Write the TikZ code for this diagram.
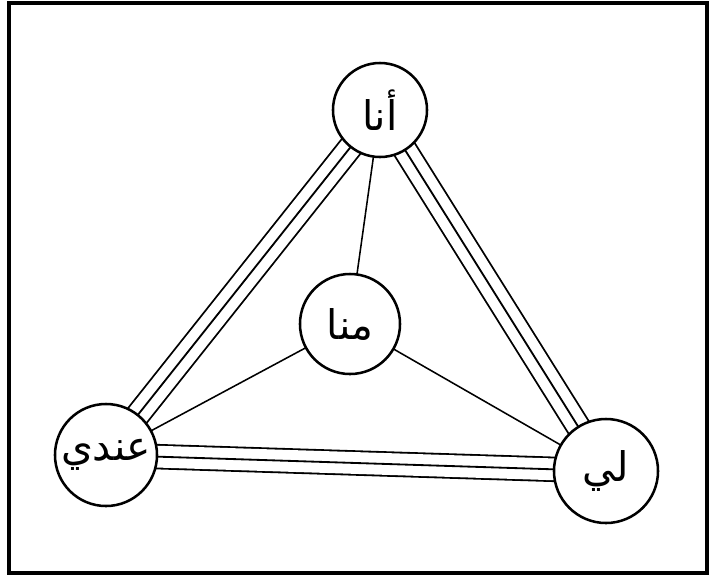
\documentclass[tikz,border=0pt]{standalone}
\usepackage{fontspec}
\usepackage{tikz}
\usetikzlibrary{backgrounds}
\newfontfamily\arabicfont[Script=Arabic]{DejaVu Sans}
\TeXXeTstate=1
\definecolor{InkBlack}{HTML}{000000}
\definecolor{PaperWhite}{HTML}{ffffff}
\tikzset{
    % Node styles
    wordcircle/.style={
        circle,
        draw=InkBlack,
        fill=PaperWhite,
        line width=1.8pt,
        minimum size=2.5cm,
        inner sep=0pt,
        font=\arabicfont\fontsize{29}{33}\selectfont
    },
    % Connector styles
    singleline/.style={
        draw=InkBlack,
        line width=1.1pt
    },
    tripleline/.style={
        draw=InkBlack,
        line width=1.3pt,
        preaction={draw=InkBlack, double=PaperWhite, double distance=15.5pt, line width=1.3pt}
    }
}

\begin{document}
\begin{tikzpicture}[x=0.025cm, y=-0.025cm]
    \useasboundingbox (0,0) rectangle (711,581);
    \draw[InkBlack, line width=3pt] (9,3) rectangle (707,573);

    \node[wordcircle, minimum size=2.35cm] (ana) at (380,110) {\beginR أنا\endR};
    \node[wordcircle] (minna) at (350,324) {\beginR منا\endR};
    \node[wordcircle, minimum size=2.55cm] (indi) at (106,455) {\beginR عندي\endR};
    \node[wordcircle, minimum size=2.6cm] (li) at (606,471) {\beginR لي\endR};

    \begin{scope}[on background layer]
        \draw[tripleline] (ana.center) -- (indi.center);
        \draw[tripleline] (ana.center) -- (li.center);
        \draw[tripleline] (indi.center) -- (li.center);
        \draw[singleline] (minna.center) -- (ana.center);
        \draw[singleline] (minna.center) -- (indi.center);
        \draw[singleline] (minna.center) -- (li.center);
    \end{scope}
\end{tikzpicture}
\end{document}
